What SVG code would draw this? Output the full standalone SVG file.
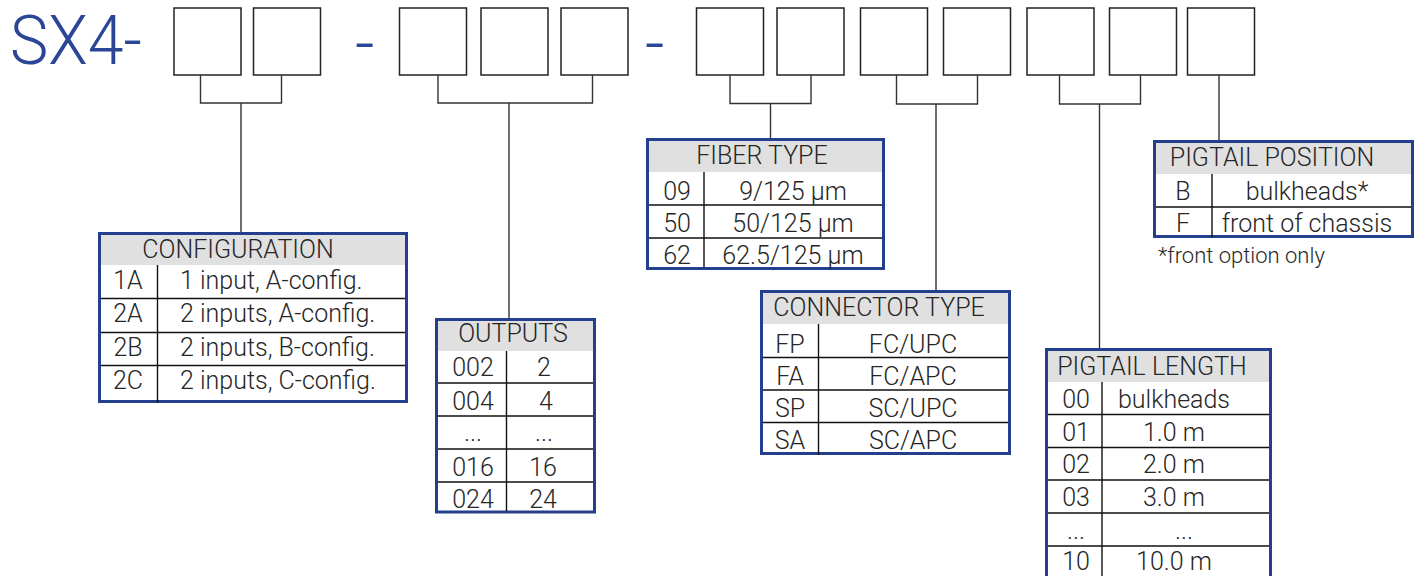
<svg xmlns="http://www.w3.org/2000/svg" width="1424" height="576" viewBox="0 0 1424 576">
<style>
text{font-family:Roboto,"Open Sans","Liberation Sans",sans-serif;font-weight:300;fill:#262626}
.t{font-size:25px}
.c{text-anchor:middle}
.title{font-size:68px;fill:#2b4597}
.box{fill:#fff;stroke:#222;stroke-width:1.5}
.con{fill:none;stroke:#333;stroke-width:1.4}
.frame{fill:#fff;stroke:#243f8d;stroke-width:3}
.hd{fill:#e0e0e0}
.ln{stroke:#111;stroke-width:1.4}
.fn{font-size:22px}
</style>
<rect width="1424" height="576" fill="#fff"/>
<g id="title">
<text class="title" x="10" y="64" textLength="132" lengthAdjust="spacingAndGlyphs">SX4-</text>
<text class="title" x="355" y="67">-</text>
<text class="title" x="645" y="67">-</text>
</g>
<g id="code-boxes">
<rect class="box" x="174" y="8" width="67" height="67"/>
<rect class="box" x="253.5" y="8" width="67" height="67"/>
<rect class="box" x="399.5" y="8" width="67" height="67"/>
<rect class="box" x="481" y="8" width="67" height="67"/>
<rect class="box" x="561" y="8" width="67" height="67"/>
<rect class="box" x="696.5" y="8" width="67" height="67"/>
<rect class="box" x="777" y="8" width="67" height="67"/>
<rect class="box" x="860.5" y="8" width="67" height="67"/>
<rect class="box" x="943.5" y="8" width="67" height="67"/>
<rect class="box" x="1027" y="8" width="67" height="67"/>
<rect class="box" x="1109.5" y="8" width="67" height="67"/>
<rect class="box" x="1187.5" y="8" width="67" height="67"/>
</g>
<g id="connectors">
<path class="con" d="M200.5 75V103H281.5V75M241 103V233"/>
<path class="con" d="M438 75V103H592.5V75M509 103V319"/>
<path class="con" d="M730 75V103.5H811V75M770.5 103.5V139"/>
<path class="con" d="M896.5 75V104H977.5V75M936 104V291"/>
<path class="con" d="M1059.5 75V104H1140.5V75M1099.5 104V349"/>
<path class="con" d="M1219 75V141"/>
</g>
<g id="configuration">
<rect class="frame" x="99.5" y="233.5" width="307" height="168"/>
<rect class="hd" x="101" y="235" width="304" height="30"/>
<path class="ln" d="M101 298.5H405M101 332.5H405M101 365.5H405M157.5 265V403"/>
<text class="t c" x="238" y="258">CONFIGURATION</text>
<text class="t c" x="128" y="289">1A</text>
<text class="t" x="180" y="289">1 input, A-config.</text>
<text class="t c" x="128" y="322">2A</text>
<text class="t" x="180" y="322">2 inputs, A-config.</text>
<text class="t c" x="128" y="356">2B</text>
<text class="t" x="180" y="356">2 inputs, B-config.</text>
<text class="t c" x="128" y="389">2C</text>
<text class="t" x="180" y="389">2 inputs, C-config.</text>
</g>
<g id="outputs">
<rect class="frame" x="436.5" y="319.5" width="158" height="192.5"/>
<rect class="hd" x="438" y="321" width="155" height="30"/>
<path class="ln" d="M438 383H593M438 416H593M438 449H593M438 482H593M506.5 351V511"/>
<text class="t c" x="513" y="342">OUTPUTS</text>
<text class="t c" x="473" y="376">002</text>
<text class="t c" x="544" y="376">2</text>
<text class="t c" x="473" y="410">004</text>
<text class="t c" x="546" y="410">4</text>
<text class="t c" x="473" y="441">...</text>
<text class="t c" x="544" y="441">...</text>
<text class="t c" x="473" y="476">016</text>
<text class="t c" x="543" y="476">16</text>
<text class="t c" x="473" y="508">024</text>
<text class="t c" x="543" y="508">24</text>
</g>
<g id="fiber-type">
<rect class="frame" x="647.5" y="139.5" width="236" height="129"/>
<rect class="hd" x="649" y="141" width="233" height="31"/>
<path class="ln" d="M649 205H882M649 238H882M704 172V267"/>
<text class="t c" x="762" y="164">FIBER TYPE</text>
<text class="t c" x="677" y="200">09</text>
<text class="t c" x="793" y="200">9/125 µm</text>
<text class="t c" x="677" y="232">50</text>
<text class="t c" x="793" y="232">50/125 µm</text>
<text class="t c" x="677" y="264">62</text>
<text class="t c" x="793" y="264">62.5/125 µm</text>
</g>
<g id="connector-type">
<rect class="frame" x="761.5" y="291.5" width="248" height="162"/>
<rect class="hd" x="763" y="293" width="245" height="31"/>
<path class="ln" d="M763 357.5H1008M763 390H1008M763 422.5H1008M818.5 324V455"/>
<text class="t c" x="879" y="316">CONNECTOR TYPE</text>
<text class="t c" x="790" y="353">FP</text>
<text class="t c" x="913" y="353">FC/UPC</text>
<text class="t c" x="790" y="385">FA</text>
<text class="t c" x="913" y="385">FC/APC</text>
<text class="t c" x="790" y="417">SP</text>
<text class="t c" x="913" y="417">SC/UPC</text>
<text class="t c" x="790" y="449">SA</text>
<text class="t c" x="913" y="449">SC/APC</text>
</g>
<g id="pigtail-length">
<rect class="frame" x="1046.5" y="349.5" width="224" height="250"/>
<rect class="hd" x="1048" y="351" width="221" height="31"/>
<path class="ln" d="M1048 414.5H1269M1048 447.5H1269M1048 480H1269M1048 513H1269M1048 546H1269M1102 382V576"/>
<text class="t c" x="1152" y="375">PIGTAIL LENGTH</text>
<text class="t c" x="1076" y="408">00</text>
<text class="t c" x="1174" y="408">bulkheads</text>
<text class="t c" x="1076" y="441">01</text>
<text class="t c" x="1174" y="441">1.0 m</text>
<text class="t c" x="1076" y="473">02</text>
<text class="t c" x="1174" y="473">2.0 m</text>
<text class="t c" x="1076" y="506">03</text>
<text class="t c" x="1174" y="506">3.0 m</text>
<text class="t c" x="1076" y="539">...</text>
<text class="t c" x="1184" y="539">...</text>
<text class="t c" x="1076" y="570">10</text>
<text class="t c" x="1174" y="570">10.0 m</text>
</g>
<g id="pigtail-position">
<rect class="frame" x="1154.5" y="141.5" width="258" height="95"/>
<rect class="hd" x="1156" y="143" width="255" height="31"/>
<path class="ln" d="M1156 207H1411M1212 174V237"/>
<text class="t c" x="1272" y="166">PIGTAIL POSITION</text>
<text class="t c" x="1183" y="200">B</text>
<text class="t c" x="1307" y="200">bulkheads*</text>
<text class="t c" x="1183" y="232">F</text>
<text class="t c" x="1307" y="232">front of chassis</text>
<text class="fn" x="1158" y="263">*front option only</text>
</g>
</svg>
